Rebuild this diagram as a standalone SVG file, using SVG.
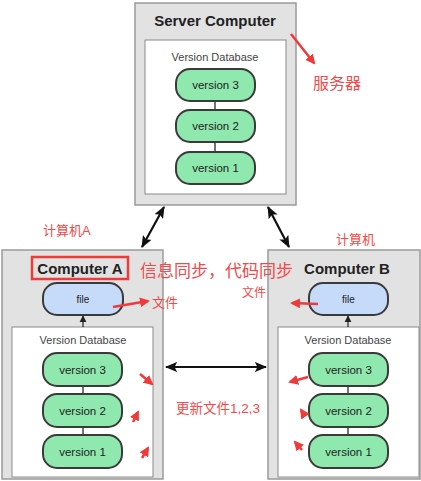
<svg xmlns="http://www.w3.org/2000/svg" width="421" height="481" viewBox="0 0 421 481">
<style>
.box{fill:#e2e2e2;stroke:#9a9a9a;stroke-width:1.5}
.db{fill:#ffffff;stroke:#8a8a8a;stroke-width:1}
.pill{fill:#8fe8ad;stroke:#3a3a3a;stroke-width:2}
.file{fill:#c6dafa;stroke:#3a3a3a;stroke-width:2}
.title{font-family:"Liberation Sans",Arial,sans-serif;font-weight:bold;font-size:15px;fill:#222;text-anchor:middle}
.dbl{font-family:"Liberation Sans",Arial,sans-serif;font-size:11px;fill:#444;text-anchor:middle}
.pt{font-family:"Liberation Sans",Arial,sans-serif;font-size:11.5px;fill:#222;text-anchor:middle}
.red{font-family:"Liberation Sans","Noto Sans CJK SC",sans-serif;fill:#f24a4a}
.link{stroke:#444;stroke-width:1.5}
.conn{stroke:#111;stroke-width:2.2;fill:none}
.ann{stroke:#f03a3a;stroke-width:2.5;fill:none}
</style>
<defs>
<marker id="ah" viewBox="0 0 12 10" refX="11" refY="5" markerWidth="5.5" markerHeight="4.6" orient="auto-start-reverse"><path d="M0,0 L12,5 L0,10 L2.5,5 z" fill="#111"/></marker>
<marker id="ahs" viewBox="0 0 10 10" refX="9" refY="5" markerWidth="6" markerHeight="6" orient="auto"><path d="M0,0 L10,5 L0,10 z" fill="#222"/></marker>
<marker id="rh" viewBox="0 0 10 10" refX="8" refY="5" markerWidth="4" markerHeight="4" orient="auto"><path d="M0,0 L10,5 L0,10 z" fill="#f03a3a"/></marker>
</defs>

<g id="server">
<rect class="box" x="135" y="3" width="161" height="202"/>
<text class="title" x="215" y="26">Server Computer</text>
<rect class="db" x="145" y="40" width="141" height="154"/>
<text class="dbl" x="215" y="61">Version Database</text>
<line class="link" x1="215" y1="101" x2="215" y2="151"/>
<rect class="pill" x="176" y="69" width="79" height="32" rx="14"/>
<text class="pt" x="215.5" y="89">version 3</text>
<rect class="pill" x="176" y="110" width="79" height="32" rx="14"/>
<text class="pt" x="215.5" y="130">version 2</text>
<rect class="pill" x="176" y="152" width="79" height="32" rx="14"/>
<text class="pt" x="215.5" y="172">version 1</text>
</g>

<g id="computerA">
<rect class="box" x="2" y="250" width="161" height="229"/>
<text class="title" x="80" y="274">Computer A</text>
<rect class="file" x="43" y="283" width="80" height="32" rx="14"/>
<text class="pt" x="83" y="303" style="font-size:10px">file</text>
<rect class="db" x="12" y="327" width="141" height="150"/>
<text class="dbl" x="83" y="344">Version Database</text>
<line class="link" x1="83" y1="386" x2="83" y2="435"/>
<rect class="pill" x="43" y="353" width="79" height="33" rx="14"/>
<text class="pt" x="82.5" y="374">version 3</text>
<rect class="pill" x="43" y="394" width="79" height="33" rx="14"/>
<text class="pt" x="82.5" y="415">version 2</text>
<rect class="pill" x="43" y="435" width="79" height="33" rx="14"/>
<text class="pt" x="82.5" y="456">version 1</text>
</g>

<g id="computerB">
<rect class="box" x="268" y="250" width="152" height="229"/>
<text class="title" x="347" y="274">Computer B</text>
<rect class="file" x="309" y="283" width="79" height="32" rx="14"/>
<text class="pt" x="348.5" y="303" style="font-size:10px">file</text>
<rect class="db" x="278" y="327" width="141" height="150"/>
<text class="dbl" x="348" y="344">Version Database</text>
<line class="link" x1="348" y1="386" x2="348" y2="435"/>
<rect class="pill" x="309" y="353" width="79" height="33" rx="14"/>
<text class="pt" x="348.5" y="374">version 3</text>
<rect class="pill" x="309" y="394" width="79" height="33" rx="14"/>
<text class="pt" x="348.5" y="415">version 2</text>
<rect class="pill" x="309" y="435" width="79" height="33" rx="14"/>
<text class="pt" x="348.5" y="456">version 1</text>
</g>

<g id="connectors">
<line class="conn" x1="164" y1="207" x2="142" y2="247" marker-start="url(#ah)" marker-end="url(#ah)"/>
<line class="conn" x1="268" y1="207" x2="289" y2="247" marker-start="url(#ah)" marker-end="url(#ah)"/>
<line class="conn" x1="166" y1="367" x2="266" y2="367" marker-start="url(#ah)" marker-end="url(#ah)"/>
<line stroke="#222" stroke-width="1.2" x1="83" y1="327" x2="83" y2="316" marker-end="url(#ahs)"/>
<line stroke="#222" stroke-width="1.2" x1="348" y1="327" x2="348" y2="316" marker-end="url(#ahs)"/>
</g>

<g id="annotations">
<rect x="32" y="257" width="96" height="22" fill="none" stroke="#f03a3a" stroke-width="2.5"/>
<line class="ann" x1="291" y1="34" x2="314" y2="63" marker-end="url(#rh)"/>
<text class="red" x="313" y="89" font-size="16">服务器</text>
<text class="red" x="43" y="235" font-size="13">计算机A</text>
<text class="red" x="336" y="244" font-size="13">计算机</text>
<text class="red" x="140" y="277" font-size="17">信息同步，代码同步</text>
<line class="ann" x1="113" y1="307" x2="148" y2="301" marker-end="url(#rh)"/>
<text class="red" x="152" y="307" font-size="13">文件</text>
<text class="red" x="242" y="297" font-size="12">文件</text>
<line class="ann" x1="318" y1="304" x2="292" y2="303" stroke-width="2" marker-end="url(#rh)"/>
<text class="red" x="176" y="413" font-size="13.5">更新文件1,2,3</text>
<line class="ann" x1="140" y1="374" x2="152" y2="384" stroke-width="2" marker-end="url(#rh)"/>
<line class="ann" x1="133" y1="422" x2="138" y2="412" stroke-width="2" marker-end="url(#rh)"/>
<line class="ann" x1="142" y1="458" x2="148" y2="448" stroke-width="2" marker-end="url(#rh)"/>
<line class="ann" x1="308" y1="377" x2="290" y2="382" stroke-width="2" marker-end="url(#rh)"/>
<line class="ann" x1="305" y1="416" x2="301" y2="410" stroke-width="2" marker-end="url(#rh)"/>
<line class="ann" x1="302" y1="450" x2="295" y2="442" stroke-width="2" marker-end="url(#rh)"/>
</g>
</svg>
